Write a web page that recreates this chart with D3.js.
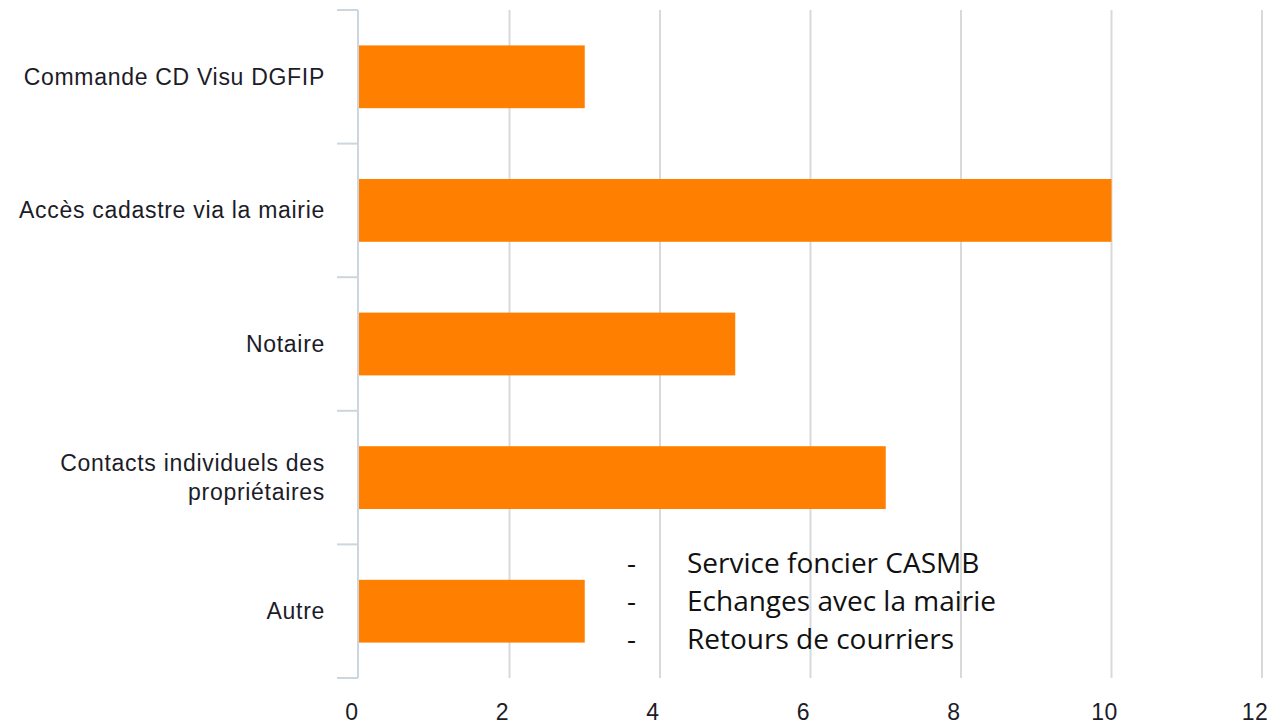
<!DOCTYPE html>
<html><head><meta charset="utf-8">
<script src="https://cdn.jsdelivr.net/npm/d3@7"></script>
<style>body{margin:0;background:#fff}svg{display:block}</style>
</head><body>
<svg id="c" width="1283" height="724"></svg>
<script>
const categories = ["Commande CD Visu DGFIP","Accès cadastre via la mairie","Notaire","Contacts individuels des|propriétaires","Autre"];
const values = [3,10,5,7,3];
const xTicks = [0,2,4,6,8,10,12];
const notes = ["Service foncier CASMB","Echanges avec la mairie","Retours de courriers"];

const svg = d3.select("#c");
const m = {left:359, right:1262, top:10, bottom:678};
const x = d3.scaleLinear().domain([0,12]).range([m.left,m.right]);
const y = d3.scaleBand().domain(categories).range([m.top,m.bottom]).paddingInner(0.53).paddingOuter(0.265);

// gridlines
svg.append("g").selectAll("line").data(xTicks.filter(d=>d>0)).join("line")
  .attr("x1",d=>x(d)).attr("x2",d=>x(d)).attr("y1",m.top).attr("y2",m.bottom)
  .attr("stroke","#d9d9d9").attr("stroke-width",2);

// bars
svg.append("g").selectAll("rect").data(values).join("rect")
  .attr("x",x(0)).attr("y",(d,i)=>y(categories[i]))
  .attr("width",d=>x(d)-x(0)).attr("height",y.bandwidth())
  .attr("fill","#ff8000");

// y axis line + separators
const axisCol = "#cdd5df";
svg.append("line").attr("x1",m.left-1).attr("x2",m.left-1).attr("y1",m.top).attr("y2",m.bottom)
  .attr("stroke",axisCol).attr("stroke-width",2);
const step = (m.bottom-m.top)/categories.length;
svg.append("g").selectAll("line").data(d3.range(categories.length+1)).join("line")
  .attr("x1",m.left-22).attr("x2",m.left-1)
  .attr("y1",d=>m.top+d*step).attr("y2",d=>m.top+d*step)
  .attr("stroke",axisCol).attr("stroke-width",2);

// category labels
const lab = svg.append("g").attr("font-family","'Liberation Sans', Arial, sans-serif")
  .attr("font-size",23).attr("letter-spacing","0.7px").attr("fill","#1c1c28").attr("text-anchor","end");
categories.forEach((c,i)=>{
  const lines = c.split("|");
  const cy = y(c)+y.bandwidth()/2;
  const lh = 29;
  const t = lab.append("text").attr("x",325);
  lines.forEach((l,j)=>{
    t.append("tspan").attr("x",325).attr("y",cy + (j-(lines.length-1)/2)*lh + 8).text(l);
  });
});

// x tick labels
svg.append("g").selectAll("text").data(xTicks).join("text")
  .attr("x",d=>x(d)-7).attr("y",720)
  .attr("text-anchor","middle").attr("font-family","'Liberation Sans', Arial, sans-serif")
  .attr("font-size",23).attr("letter-spacing","0.5px").attr("fill","#1c1c28").text(d=>d);

// annotation
const ng = svg.append("g").attr("font-family","'Open Sans', 'Noto Sans', sans-serif").attr("font-size",28).attr("fill","#111");
notes.forEach((n,i)=>{
  ng.append("text").attr("x",627).attr("y",573+i*38).text("-");
  ng.append("text").attr("x",687).attr("y",573+i*38).text(n);
});
</script>
</body></html>
